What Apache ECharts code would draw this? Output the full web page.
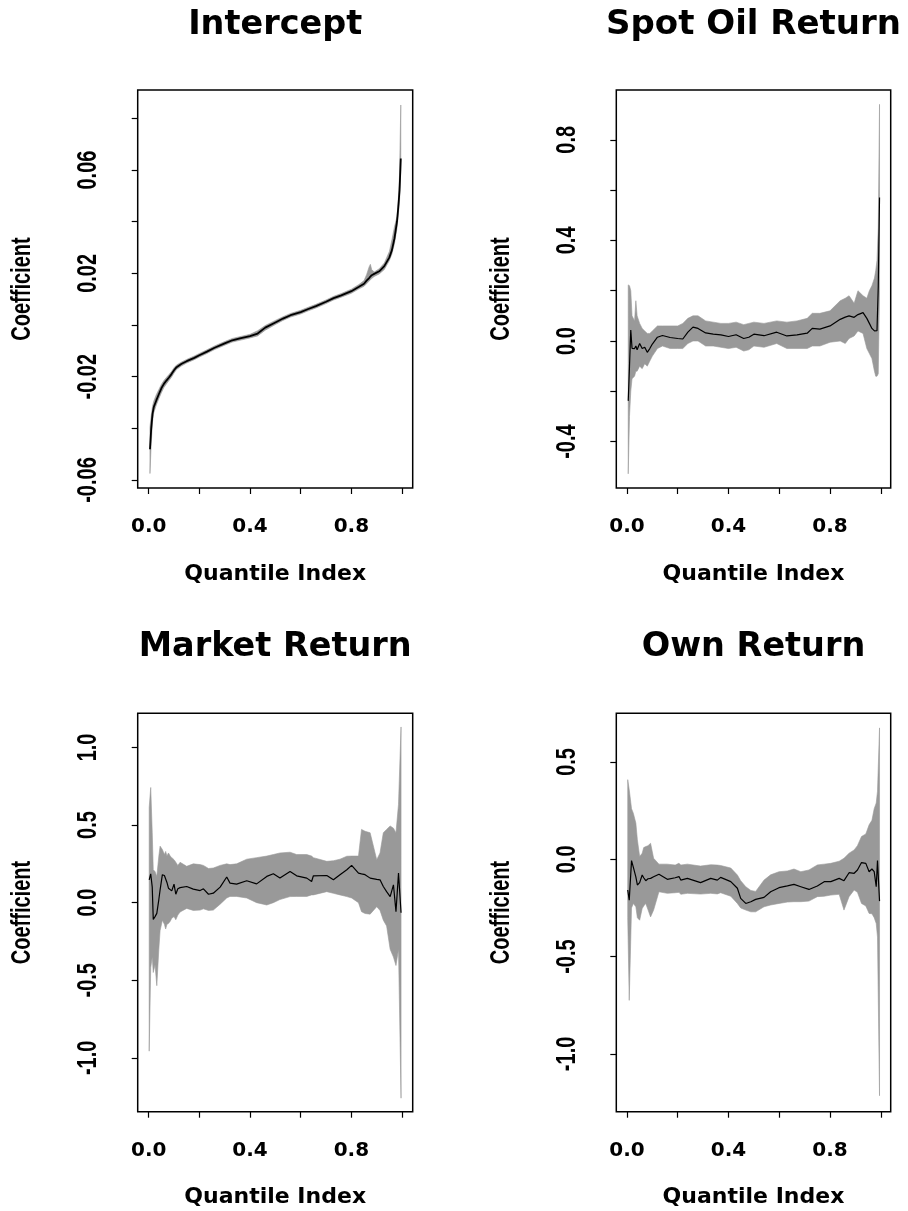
<!DOCTYPE html>
<html><head><meta charset="utf-8">
<script src="https://cdn.jsdelivr.net/npm/echarts@6/dist/echarts.min.js"></script>
<style>html,body{margin:0;padding:0;background:#fff}#c{width:908px;height:1211px}</style>
</head><body><div id="c"></div>
<script>
// ---------- data ----------
const titles = ['Intercept', 'Spot Oil Return', 'Market Return', 'Own Return'];
const xTickValues = [0, 0.2, 0.4, 0.6, 0.8, 1.0];
const xLabelValues = [0, 0.4, 0.8];

// Panel 1: Intercept
const p1Q     = [0.005,0.01,0.015,0.02,0.03,0.04,0.05,0.06,0.07,0.08,0.09,0.10,0.11,0.13,0.15,0.18,0.20,0.23,0.26,0.30,0.33,0.36,0.40,0.43,0.46,0.50,0.53,0.56,0.60,0.63,0.66,0.70,0.73,0.76,0.80,0.83,0.85,0.86,0.87,0.875,0.88,0.89,0.91,0.93,0.95,0.96,0.97,0.98,0.985,0.99,0.995];
const p1Line  = [-0.0481,-0.0400,-0.0345,-0.0318,-0.0292,-0.0268,-0.0245,-0.0228,-0.0215,-0.0203,-0.0190,-0.0175,-0.0163,-0.0150,-0.0140,-0.0127,-0.0117,-0.0103,-0.0088,-0.0071,-0.0059,-0.0052,-0.0043,-0.0033,-0.0010,0.0010,0.0025,0.0038,0.0050,0.0062,0.0073,0.0090,0.0104,0.0115,0.0131,0.0148,0.0160,0.0172,0.0182,0.0188,0.0193,0.0198,0.0208,0.0228,0.0262,0.0290,0.0335,0.0400,0.0455,0.0520,0.0645];
const p1Lower = [-0.0575,-0.0460,-0.0375,-0.0340,-0.0310,-0.0285,-0.0262,-0.0242,-0.0228,-0.0215,-0.0202,-0.0186,-0.0172,-0.0158,-0.0147,-0.0134,-0.0124,-0.0110,-0.0095,-0.0078,-0.0066,-0.0059,-0.0050,-0.0042,-0.0020,0.0002,0.0018,0.0031,0.0043,0.0055,0.0066,0.0083,0.0097,0.0108,0.0123,0.0140,0.0150,0.0160,0.0170,0.0175,0.0180,0.0188,0.0198,0.0215,0.0250,0.0275,0.0315,0.0375,0.0425,0.0480,0.0600];
const p1Upper = [-0.0395,-0.0350,-0.0315,-0.0295,-0.0270,-0.0250,-0.0230,-0.0215,-0.0203,-0.0192,-0.0180,-0.0165,-0.0155,-0.0143,-0.0133,-0.0120,-0.0110,-0.0096,-0.0081,-0.0064,-0.0052,-0.0045,-0.0036,-0.0022,-0.0002,0.0018,0.0032,0.0045,0.0057,0.0069,0.0080,0.0097,0.0111,0.0122,0.0139,0.0157,0.0172,0.0195,0.0225,0.0235,0.0215,0.0205,0.0218,0.0240,0.0285,0.0330,0.0380,0.0420,0.0480,0.0580,0.0852];
const p1YTicks  = [-0.06,-0.04,-0.02,0,0.02,0.04,0.06,0.08];
const p1YLabels = [-0.06,-0.02,0.02,0.06];

// Panel 2: Spot Oil Return
const p2Q     = [0.005,0.01,0.015,0.02,0.03,0.035,0.04,0.05,0.06,0.07,0.08,0.09,0.10,0.12,0.14,0.17,0.20,0.22,0.24,0.26,0.28,0.31,0.34,0.37,0.40,0.43,0.46,0.48,0.50,0.54,0.59,0.63,0.67,0.71,0.73,0.76,0.80,0.84,0.86,0.875,0.895,0.91,0.93,0.945,0.955,0.965,0.975,0.98,0.985,0.99,0.995];
const p2Line  = [-0.238,-0.100,0.044,-0.029,-0.030,-0.020,-0.035,-0.010,-0.030,-0.025,-0.045,-0.030,-0.012,0.015,0.022,0.014,0.010,0.008,0.035,0.055,0.050,0.032,0.027,0.024,0.018,0.025,0.010,0.015,0.027,0.021,0.035,0.020,0.024,0.031,0.050,0.047,0.060,0.086,0.095,0.100,0.094,0.105,0.113,0.090,0.070,0.050,0.040,0.045,0.041,0.217,0.571];
const p2Lower = [-0.528,-0.300,-0.200,-0.150,-0.140,-0.120,-0.120,-0.100,-0.110,-0.090,-0.100,-0.080,-0.060,-0.030,-0.020,-0.030,-0.030,-0.030,-0.010,0.000,0.000,-0.020,-0.020,-0.025,-0.030,-0.025,-0.040,-0.035,-0.020,-0.025,-0.010,-0.030,-0.030,-0.030,-0.020,-0.020,-0.005,0.000,-0.010,0.010,0.020,0.040,0.030,-0.030,-0.050,-0.070,-0.120,-0.140,-0.140,-0.130,0.200];
const p2Upper = [0.223,0.220,0.200,0.100,0.080,0.160,0.100,0.070,0.050,0.040,0.030,0.030,0.040,0.060,0.060,0.060,0.060,0.070,0.090,0.100,0.100,0.080,0.075,0.070,0.070,0.075,0.065,0.070,0.075,0.070,0.080,0.075,0.080,0.090,0.110,0.110,0.120,0.160,0.170,0.180,0.150,0.200,0.180,0.170,0.200,0.220,0.250,0.280,0.320,0.450,0.941];
const p2YTicks  = [-0.4,-0.2,0,0.2,0.4,0.6,0.8];
const p2YLabels = [-0.4,0,0.4,0.8];

// Panel 3: Market Return
const p3Q     = [0.002,0.008,0.014,0.018,0.025,0.032,0.04,0.045,0.054,0.062,0.067,0.072,0.078,0.085,0.091,0.10,0.107,0.115,0.124,0.15,0.176,0.203,0.216,0.236,0.255,0.282,0.308,0.321,0.347,0.387,0.426,0.466,0.492,0.518,0.558,0.584,0.624,0.643,0.65,0.703,0.729,0.755,0.782,0.801,0.828,0.84,0.854,0.874,0.90,0.913,0.926,0.939,0.953,0.966,0.976,0.986,0.996];
const p3Line  = [0.147,0.186,0.100,-0.108,-0.090,-0.069,0.020,0.082,0.180,0.175,0.165,0.130,0.093,0.085,0.076,0.119,0.054,0.090,0.097,0.104,0.087,0.078,0.089,0.054,0.061,0.100,0.165,0.126,0.119,0.141,0.121,0.169,0.186,0.158,0.201,0.173,0.158,0.136,0.173,0.175,0.147,0.180,0.212,0.240,0.190,0.185,0.180,0.158,0.150,0.147,0.104,0.071,0.039,0.115,-0.058,0.190,-0.065];
const p3Lower = [-0.957,-0.420,-0.350,-0.450,-0.400,-0.535,-0.300,-0.180,-0.113,-0.140,-0.170,-0.140,-0.134,-0.120,-0.100,-0.090,-0.110,-0.080,-0.060,-0.037,-0.050,-0.048,-0.040,-0.050,-0.048,-0.010,0.030,0.040,0.040,0.030,0.000,-0.015,0.000,0.020,0.039,0.040,0.040,0.050,0.050,0.071,0.060,0.050,0.039,0.030,0.000,-0.058,-0.070,-0.074,-0.026,-0.050,-0.113,-0.150,-0.300,-0.351,-0.405,-0.300,-1.260];
const p3Upper = [0.613,0.742,0.450,0.212,0.200,0.169,0.300,0.364,0.342,0.310,0.330,0.300,0.320,0.300,0.290,0.277,0.260,0.240,0.260,0.234,0.250,0.245,0.240,0.220,0.223,0.240,0.250,0.245,0.250,0.280,0.290,0.300,0.310,0.320,0.325,0.310,0.310,0.300,0.290,0.266,0.270,0.280,0.299,0.300,0.300,0.472,0.460,0.450,0.277,0.320,0.450,0.472,0.494,0.480,0.450,0.634,1.132];
const p3YTicks  = [-1.0,-0.5,0,0.5,1.0];
const p3YLabels = [-1.0,-0.5,0,0.5,1.0];

// Panel 4: Own Return
const p4Q     = [0.003,0.009,0.018,0.025,0.035,0.041,0.05,0.06,0.066,0.074,0.083,0.093,0.105,0.126,0.159,0.19,0.205,0.212,0.238,0.29,0.33,0.356,0.369,0.409,0.435,0.448,0.468,0.488,0.507,0.54,0.566,0.599,0.632,0.658,0.685,0.717,0.75,0.777,0.803,0.836,0.855,0.875,0.895,0.908,0.924,0.941,0.954,0.965,0.974,0.982,0.987,0.995];
const p4Line  = [-0.158,-0.210,-0.007,-0.040,-0.090,-0.132,-0.120,-0.081,-0.095,-0.110,-0.100,-0.098,-0.090,-0.077,-0.103,-0.095,-0.089,-0.107,-0.098,-0.120,-0.098,-0.107,-0.093,-0.115,-0.149,-0.201,-0.227,-0.218,-0.206,-0.196,-0.167,-0.146,-0.137,-0.129,-0.141,-0.155,-0.137,-0.115,-0.115,-0.098,-0.110,-0.069,-0.072,-0.055,-0.017,-0.021,-0.064,-0.050,-0.064,-0.141,-0.007,-0.215];
const p4Lower = [-0.300,-0.725,-0.250,-0.227,-0.244,-0.300,-0.313,-0.253,-0.240,-0.227,-0.260,-0.296,-0.261,-0.167,-0.175,-0.172,-0.170,-0.180,-0.175,-0.179,-0.175,-0.178,-0.172,-0.190,-0.227,-0.250,-0.261,-0.270,-0.270,-0.244,-0.235,-0.227,-0.220,-0.218,-0.218,-0.215,-0.192,-0.190,-0.184,-0.180,-0.261,-0.192,-0.158,-0.170,-0.227,-0.240,-0.278,-0.280,-0.300,-0.330,-0.400,-1.215];
const p4Upper = [0.409,0.357,0.260,0.237,0.186,0.100,0.014,0.031,0.060,0.065,0.070,0.082,0.005,-0.025,-0.025,-0.030,-0.020,-0.030,-0.025,-0.035,-0.028,-0.030,-0.032,-0.045,-0.081,-0.110,-0.141,-0.160,-0.165,-0.107,-0.080,-0.064,-0.060,-0.050,-0.064,-0.055,-0.029,-0.025,-0.021,-0.010,0.005,0.031,0.048,0.070,0.117,0.130,0.177,0.200,0.260,0.289,0.350,0.675];
const p4YTicks  = [-1.0,-0.5,0,0.5];
const p4YLabels = [-1.0,-0.5,0,0.5];

// ---------- layout / style ----------
const panels = [
  {q:p1Q, line:p1Line, lo:p1Lower, up:p1Upper, yt:p1YTicks, yl:p1YLabels, ymin:-0.0631, ymax:0.0910, dec:2, lw:1.8,
   grid:{left:137.7, top:90, width:275, height:398}, xmin:-0.0434, xmax:1.042},
  {q:p2Q, line:p2Line, lo:p2Lower, up:p2Upper, yt:p2YTicks, yl:p2YLabels, ymin:-0.5845, ymax:0.998, dec:1, lw:1.2,
   grid:{left:616.3, top:90, width:274.4, height:398}, xmin:-0.042, xmax:1.039},
  {q:p3Q, line:p3Line, lo:p3Lower, up:p3Upper, yt:p3YTicks, yl:p3YLabels, ymin:-1.347, ymax:1.220, dec:1, lw:1.2,
   grid:{left:137.7, top:713.3, width:275, height:398.4}, xmin:-0.0434, xmax:1.042},
  {q:p4Q, line:p4Line, lo:p4Lower, up:p4Upper, yt:p4YTicks, yl:p4YLabels, ymin:-1.297, ymax:0.750, dec:1, lw:1.2,
   grid:{left:616.3, top:713.3, width:274.4, height:398.4}, xmin:-0.042, xmax:1.039}
];
const wideFont = 'DejaVu Sans';
const narrowFont = "'Liberation Sans', Arial, sans-serif";
const bandColor = '#999999';
const vStretch = 1.4;       // rotated text is drawn taller than wide, as in the reference
const yLabelOffset = 49;    // distance of rotated tick-label centre from the box
const yNameOffset = 115;    // distance of rotated axis-title centre from the box

const option = {
  animation: false,
  backgroundColor: '#ffffff',
  title: panels.map((p, i) => ({
    text: titles[i],
    left: p.grid.left + p.grid.width / 2,
    top: i < 2 ? 8 : 630,
    textAlign: 'center',
    padding: 0,
    textStyle: {fontFamily: wideFont, fontWeight: 'bold', fontSize: i === 1 ? 34 : 33.5, color: '#000'}
  })),
  graphic: panels.map(p => ({
    type: 'text', silent: true,
    x: p.grid.left - yNameOffset, y: p.grid.top + p.grid.height / 2,
    rotation: Math.PI / 2, scaleY: vStretch,
    style: {text: 'Coefficient', fontFamily: narrowFont, fontWeight: 'bold', fontSize: 20, fill: '#000',
            align: 'center', verticalAlign: 'middle'}
  })),
  grid: panels.map(p => Object.assign({show: true, borderColor: '#000', borderWidth: 1.5, backgroundColor: 'transparent'}, p.grid)),
  xAxis: panels.map((p, i) => ({
    gridIndex: i, type: 'value', min: p.xmin, max: p.xmax,
    splitLine: {show: false}, axisLine: {show: false, onZero: false},
    axisTick: {show: true, customValues: xTickValues, length: 6, lineStyle: {color: '#000', width: 1.2}},
    axisLabel: {customValues: xLabelValues, margin: 29, fontFamily: wideFont, fontWeight: 'bold', fontSize: 20, color: '#000',
      formatter: v => Number(v).toFixed(1)},
    name: 'Quantile Index', nameLocation: 'middle', nameGap: 75,
    nameTextStyle: {fontFamily: wideFont, fontWeight: 'bold', fontSize: 22, color: '#000'}
  })),
  yAxis: panels.map((p, i) => ({
    gridIndex: i, type: 'value', min: p.ymin, max: p.ymax,
    splitLine: {show: false}, axisLine: {show: false, onZero: false},
    axisTick: {show: true, customValues: p.yt, length: 6, lineStyle: {color: '#000', width: 1.2}},
    axisLabel: {show: false}
  })),
  series: []
};

panels.forEach((p, i) => {
  const n = p.q.length;
  // confidence band
  option.series.push({
    type: 'custom', xAxisIndex: i, yAxisIndex: i, silent: true, z: 1,
    data: p.q.map((x, k) => [x, p.lo[k], p.up[k]]),
    encode: {x: 0, y: [1, 2]},
    renderItem: (params, api) => {
      if (params.dataIndex !== 0) return null;
      const pts = [];
      for (let k = 0; k < n; k++) pts.push(api.coord([api.value(0, k), api.value(2, k)]));
      for (let k = n - 1; k >= 0; k--) pts.push(api.coord([api.value(0, k), api.value(1, k)]));
      return {type: 'polygon', shape: {points: pts}, style: {fill: bandColor, stroke: bandColor, lineWidth: 0.6}};
    }
  });
  // coefficient line
  option.series.push({
    type: 'line', xAxisIndex: i, yAxisIndex: i,
    data: p.q.map((x, k) => [x, p.line[k]]), showSymbol: false, symbol: 'none',
    lineStyle: {color: '#000', width: p.lw}, silent: true, z: 3
  });
  // rotated y tick labels placed through the y scale
  option.series.push({
    type: 'custom', xAxisIndex: i, yAxisIndex: i, silent: true, clip: false, z: 4,
    data: p.yl.map(v => [p.xmin, v]),
    encode: {x: 0, y: 1},
    renderItem: (params, api) => {
      const c = api.coord([api.value(0), api.value(1)]);
      return {
        type: 'text', x: c[0] - yLabelOffset, y: c[1], rotation: Math.PI / 2, scaleY: vStretch,
        style: {text: Number(api.value(1)).toFixed(p.dec), fontFamily: narrowFont, fontWeight: 'bold',
                fontSize: 20, fill: '#000', align: 'center', verticalAlign: 'middle'}
      };
    }
  });
});

const chart = echarts.init(document.getElementById('c'), null, {renderer: 'canvas'});
chart.setOption(option);
</script>
</body></html>
